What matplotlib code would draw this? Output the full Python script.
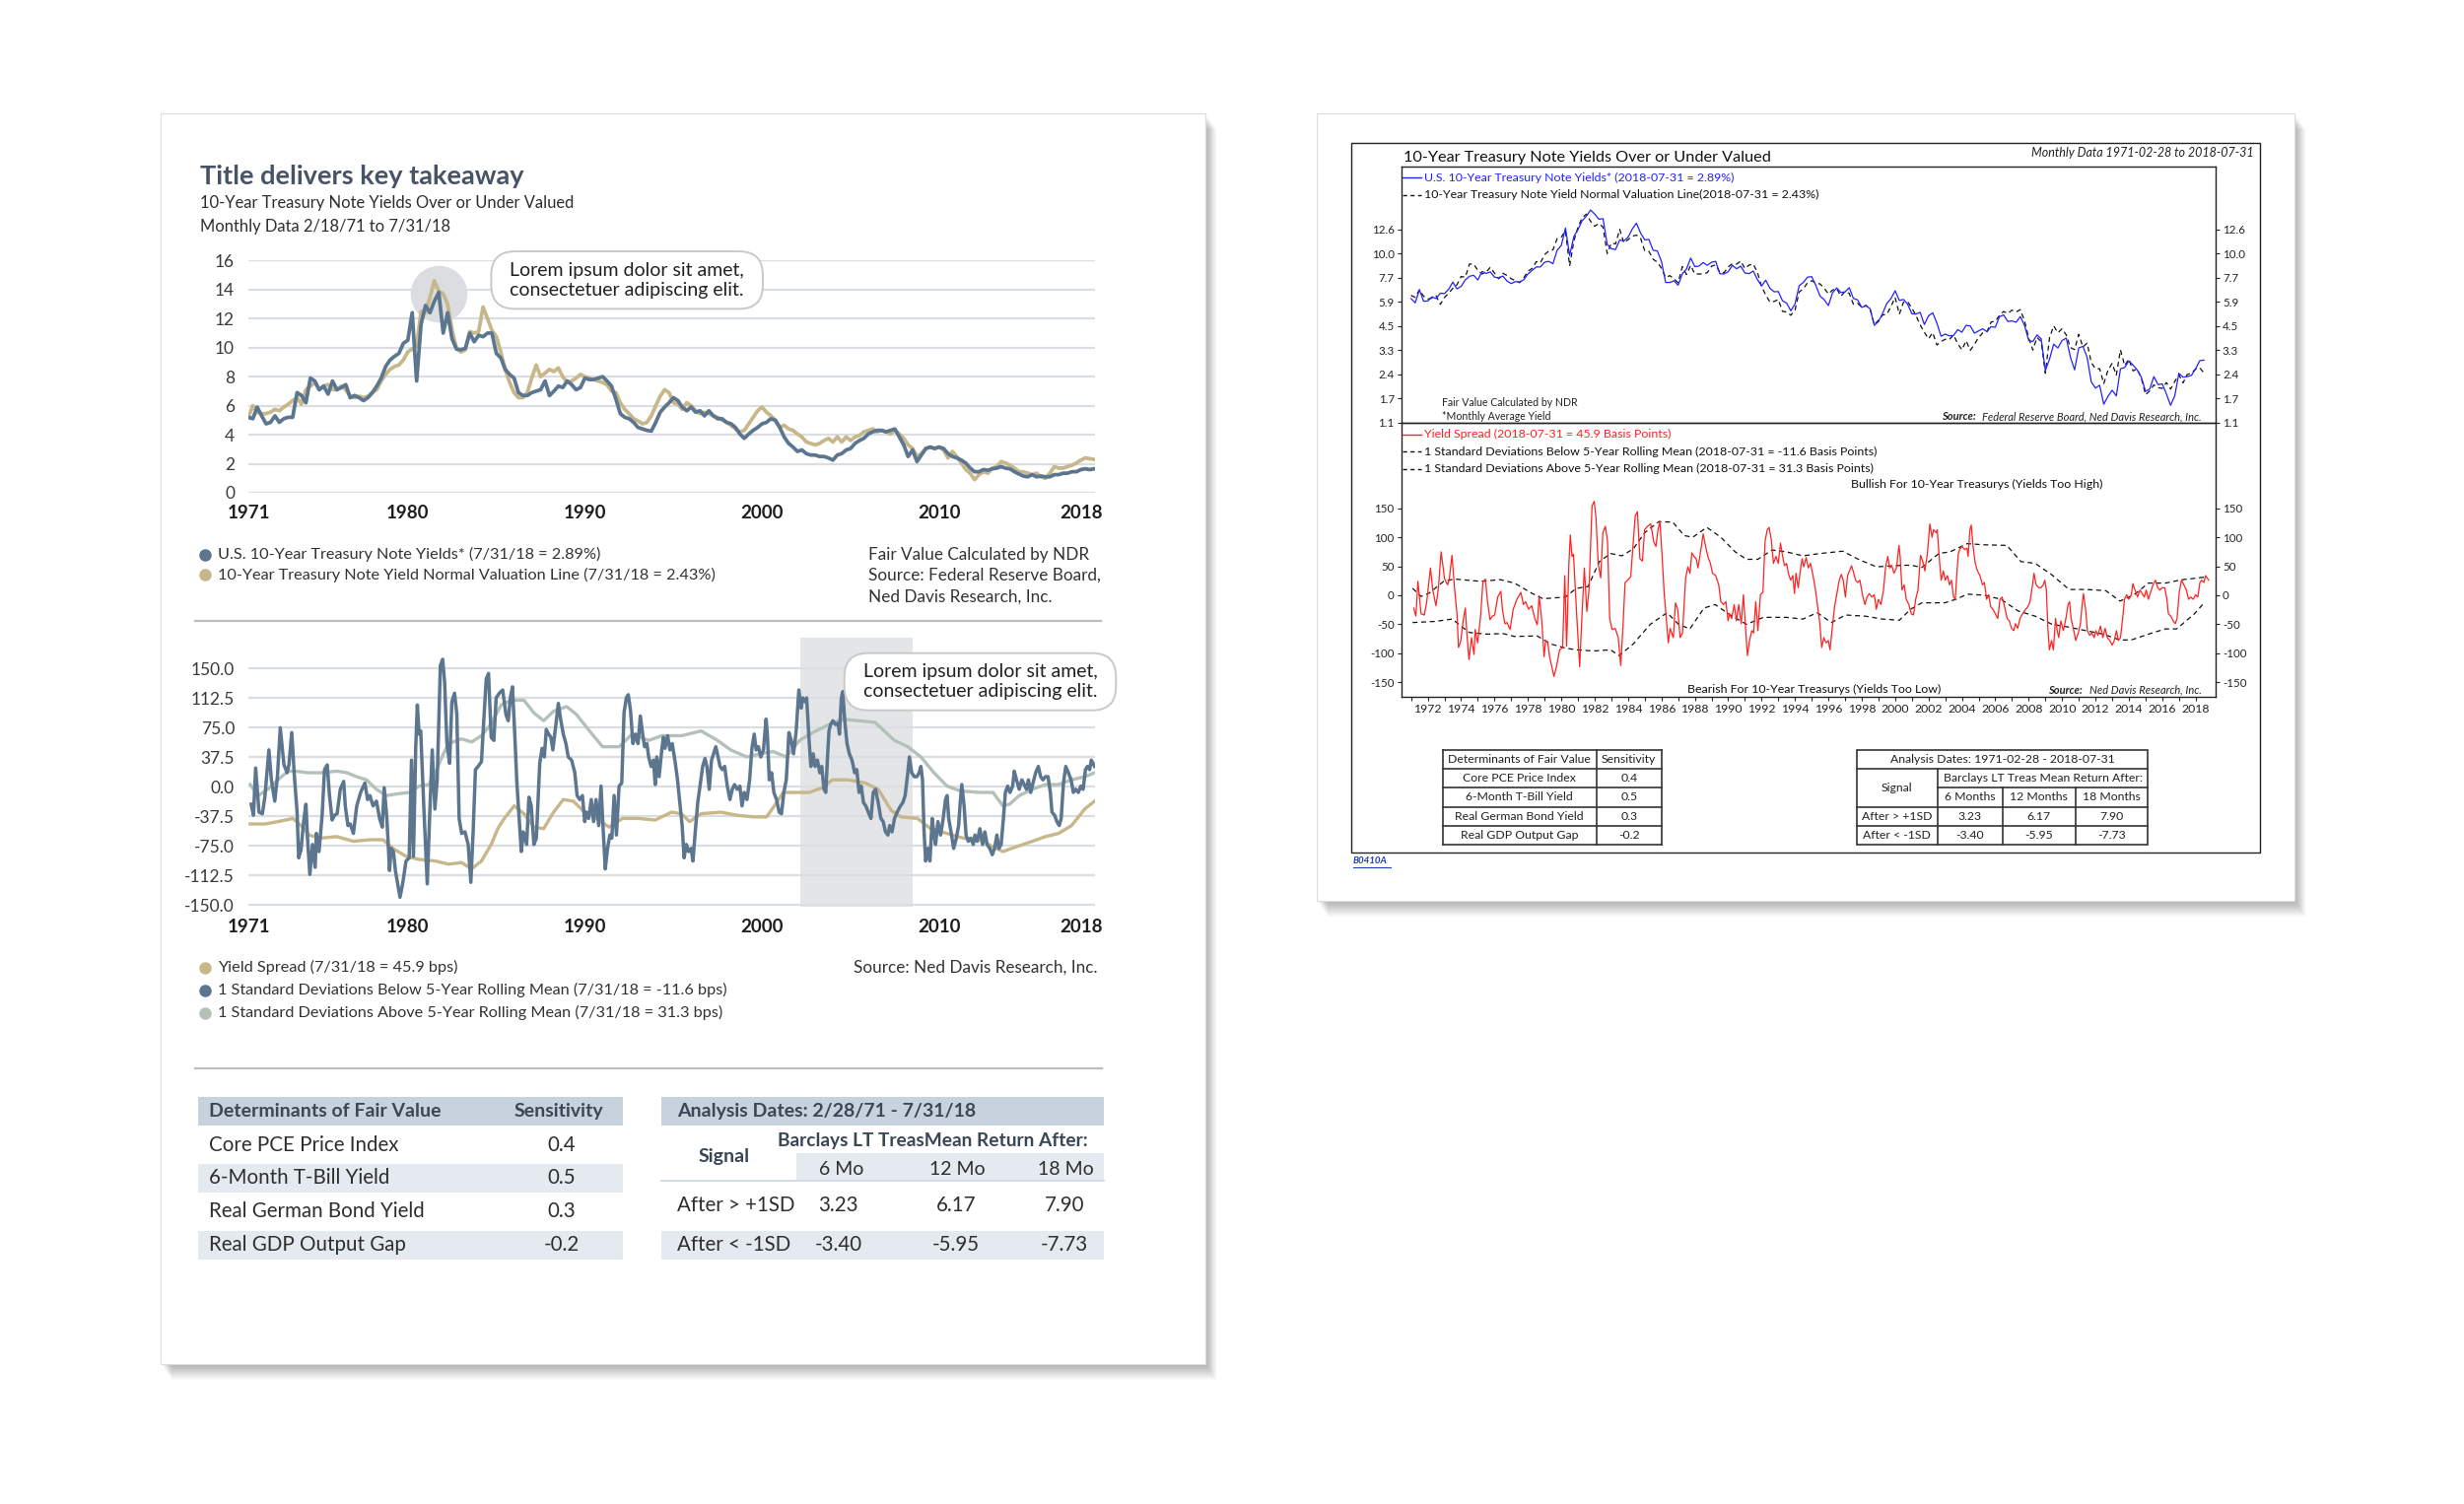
import numpy as np
import matplotlib
matplotlib.use("Agg")
import matplotlib.pyplot as plt
from matplotlib.patches import Rectangle, FancyBboxPatch
from matplotlib.ticker import FixedLocator, NullLocator

plt.rcParams['font.family'] = ['Lato', 'DejaVu Sans']

W, H, DPI = 2500, 1526, 100

# ============================ DATA ============================
# ---- left page, top chart (quarterly, as drawn) ----
left_quarters = np.arange(1971.0, 2018.76, 0.25)
left_yield = [
    5.2, 5.1, 5.9, 5.3,  4.75, 4.85, 5.3, 4.85,  5.1, 5.2, 5.2, 6.9,  6.7, 6.2, 7.9, 7.7,
    7.1, 7.35, 6.8, 7.7,  7.1, 7.25, 7.45, 6.55,  6.7, 6.55, 6.35, 6.55,  6.9, 7.35, 7.9, 8.7,
    9.15, 9.4, 9.6, 10.3,  10.5, 12.4, 7.7, 11.6,  12.9, 12.4, 13.2, 13.8,  11.0, 12.4, 10.6, 9.9,
    9.85, 9.95, 11.0, 10.4,  10.85, 10.75, 11.0, 11.0,  9.6, 9.3, 8.5, 8.15,  7.9, 6.9, 6.7, 6.7,
    6.9, 7.0, 7.1, 7.7,  6.7, 7.0, 7.35, 7.25,  7.7, 7.45, 7.1, 7.25,  7.9, 7.8, 7.8, 7.9,
    8.0, 7.7, 7.35, 6.45,  5.45, 5.2, 5.1, 4.85,  4.5, 4.4, 4.3, 4.25,  4.85, 5.55, 5.9, 6.2,
    6.55, 6.35, 5.9, 5.65,  5.9, 5.55, 5.65, 5.3,  5.65, 5.3, 5.1, 5.1,  4.85, 4.75, 4.5, 4.05,
    3.75, 4.05, 4.3, 4.5,  4.75, 4.85, 5.1, 5.0,  4.5, 3.85, 3.4, 3.15,  2.85, 2.95, 2.7, 2.6,
    2.6, 2.5, 2.5, 2.4,  2.25, 2.6, 2.7, 2.95,  3.05, 3.4, 3.6, 3.75,  4.05, 4.2, 4.3, 4.3,
    4.2, 4.3, 4.4, 3.85,  3.3, 2.5, 2.95, 2.15,  2.6, 3.05, 3.15, 3.05,  3.15, 3.05, 2.7, 2.5,
    2.4, 2.25, 2.05, 1.7,  1.45, 1.45, 1.6, 1.55,  1.65, 1.7, 1.8, 1.7,  1.65, 1.45, 1.3, 1.15,
    1.1, 1.25, 1.1, 1.15,  1.1, 1.1, 1.25, 1.25,  1.35, 1.35, 1.45, 1.45,  1.6, 1.65, 1.6, 1.65]
left_valuation = [
    5.2, 6.0, 5.55, 5.45,  5.45, 5.55, 5.75, 5.65,  5.9, 6.1, 6.35, 6.55,  6.1, 7.1, 7.35, 7.6,
    7.1, 7.35, 7.45, 7.1,  7.1, 7.35, 7.1, 6.65,  6.55, 6.65, 6.55, 6.65,  6.9, 7.1, 7.7, 8.15,
    8.5, 8.7, 8.8, 9.15,  9.7, 9.9, 10.1, 12.5,  12.4, 13.45, 14.6, 13.9,  13.7, 13.0, 11.2, 9.95,
    9.7, 9.85, 11.1, 11.0,  11.1, 12.8, 12.0, 11.2,  10.75, 9.7, 8.5, 7.6,  6.9, 6.55, 6.55, 6.9,
    7.9, 8.8, 8.0, 8.25,  8.5, 8.35, 8.6, 8.0,  7.6, 7.7, 7.9, 8.15,  8.0, 7.9, 7.8, 7.7,
    7.6, 7.45, 7.0, 6.9,  6.2, 5.75, 5.45, 5.1,  4.95, 4.75, 4.85, 5.3,  6.0, 6.65, 7.1, 6.9,
    6.2, 6.1, 5.75, 6.2,  6.0, 5.65, 5.45, 5.55,  5.45, 5.3, 5.2, 5.0,  4.85, 4.65, 4.4, 4.2,
    4.3, 4.75, 5.2, 5.65,  5.9, 5.55, 5.3, 5.0,  4.5, 4.65, 4.4, 4.3,  4.05, 3.85, 3.5, 3.4,
    3.3, 3.4, 3.6, 3.75,  3.5, 3.85, 3.5, 3.85,  3.6, 3.85, 3.95, 4.2,  4.3, 4.4, 4.2, 4.3,
    4.2, 4.05, 4.3, 4.05,  3.75, 3.3, 3.05, 2.5,  2.7, 3.05, 3.15, 3.05,  3.15, 2.95, 2.4, 2.85,
    2.5, 2.05, 1.6, 1.35,  0.9, 1.25, 1.45, 1.35,  1.7, 1.8, 2.15, 2.05,  1.9, 1.7, 1.45, 1.45,
    1.35, 1.25, 1.35, 1.1,  1.0, 1.35, 1.8, 1.7,  1.7, 1.8, 1.9, 2.05,  2.25, 2.4, 2.35, 2.3]

# ---- yield spread (basis points), read point by point ----
spread_years = [
    1971.16, 1971.29, 1971.41, 1971.60, 1971.79, 1971.93, 1972.16, 1972.30, 1972.49, 1972.64,
    1972.80, 1973.01, 1973.19, 1973.29, 1973.45, 1973.60, 1973.75, 1973.84, 1973.97, 1974.12,
    1974.25, 1974.34, 1974.47, 1974.62, 1974.77, 1974.84, 1974.99, 1975.17, 1975.30, 1975.45,
    1975.58, 1975.73, 1975.86, 1976.01, 1976.19, 1976.38, 1976.47, 1976.62, 1976.75, 1976.93,
    1977.12, 1977.34, 1977.58, 1977.73, 1977.86, 1978.04, 1978.23, 1978.41, 1978.56, 1978.67,
    1978.82, 1978.97, 1979.06, 1979.19, 1979.30, 1979.43, 1979.56, 1979.71, 1979.90, 1980.08,
    1980.21, 1980.32, 1980.45, 1980.54, 1980.64, 1980.73, 1980.91, 1981.10, 1981.23, 1981.38,
    1981.53, 1981.66, 1981.84, 1981.97, 1982.08, 1982.21, 1982.36, 1982.49, 1982.64, 1982.77,
    1982.90, 1983.04, 1983.23, 1983.41, 1983.56, 1983.69, 1983.82, 1983.97, 1984.16, 1984.29,
    1984.43, 1984.56, 1984.71, 1984.86, 1984.99, 1985.17, 1985.36, 1985.54, 1985.67, 1985.79,
    1985.91, 1986.04, 1986.16, 1986.29, 1986.41, 1986.52, 1986.71, 1986.84, 1986.97, 1987.12,
    1987.26, 1987.45, 1987.58, 1987.71, 1987.82, 1987.95, 1988.08, 1988.19, 1988.32, 1988.41,
    1988.50, 1988.63, 1988.78, 1988.93, 1989.06, 1989.25, 1989.43, 1989.56, 1989.71, 1989.86,
    1989.99, 1990.08, 1990.21, 1990.36, 1990.49, 1990.63, 1990.78, 1990.91, 1991.00, 1991.15,
    1991.28, 1991.41, 1991.52, 1991.65, 1991.78, 1991.93, 1992.08, 1992.21, 1992.34, 1992.45,
    1992.58, 1992.71, 1992.86, 1993.00, 1993.13, 1993.26, 1993.37, 1993.50, 1993.60, 1993.74,
    1993.87, 1993.97, 1994.06, 1994.19, 1994.34, 1994.43, 1994.52, 1994.67, 1994.80, 1994.93,
    1995.08, 1995.23, 1995.36, 1995.49, 1995.60, 1995.73, 1995.86, 1996.00, 1996.10, 1996.23,
    1996.37, 1996.52, 1996.65, 1996.78, 1996.89, 1997.02, 1997.15, 1997.26, 1997.39, 1997.52,
    1997.63, 1997.76, 1997.89, 1998.04, 1998.19, 1998.32, 1998.45, 1998.60, 1998.75, 1998.87,
    1999.00, 1999.15, 1999.30, 1999.43, 1999.56, 1999.67, 1999.80, 1999.93, 2000.08, 2000.23,
    2000.30, 2000.41, 2000.54, 2000.67, 2000.82, 2000.97, 2001.10, 2001.23, 2001.37, 2001.52,
    2001.65, 2001.78, 2001.93, 2002.08, 2002.21, 2002.30, 2002.45, 2002.52, 2002.67, 2002.76,
    2002.89, 2003.00, 2003.13, 2003.26, 2003.37, 2003.50, 2003.60, 2003.69, 2003.78, 2003.87,
    2004.00, 2004.15, 2004.30, 2004.37, 2004.48, 2004.56, 2004.67, 2004.80, 2004.93, 2005.08,
    2005.23, 2005.35, 2005.48, 2005.60, 2005.73, 2005.86, 2006.00, 2006.15, 2006.28, 2006.41,
    2006.56, 2006.71, 2006.84, 2006.97, 2007.11, 2007.21, 2007.34, 2007.48, 2007.63, 2007.82,
    2007.95, 2008.08, 2008.23, 2008.32, 2008.45, 2008.60, 2008.74, 2008.87, 2008.97, 2009.06,
    2009.15, 2009.24, 2009.37, 2009.48, 2009.61, 2009.71, 2009.80, 2009.93, 2010.08, 2010.23,
    2010.36, 2010.45, 2010.54, 2010.67, 2010.82, 2010.97, 2011.10, 2011.19, 2011.28, 2011.41,
    2011.52, 2011.65, 2011.78, 2011.93, 2012.02, 2012.15, 2012.30, 2012.45, 2012.58, 2012.71,
    2012.86, 2013.00, 2013.13, 2013.26, 2013.37, 2013.50, 2013.63, 2013.74, 2013.87, 2014.00,
    2014.15, 2014.24, 2014.37, 2014.52, 2014.67, 2014.80, 2014.93, 2015.04, 2015.17, 2015.30,
    2015.45, 2015.60, 2015.73, 2015.86, 2016.00, 2016.15, 2016.28, 2016.37, 2016.52, 2016.65,
    2016.78, 2016.89, 2017.02, 2017.15, 2017.30, 2017.45, 2017.58, 2017.71, 2017.86, 2018.00,
    2018.13, 2018.26, 2018.37, 2018.50, 2018.59, 2018.69, 2018.78]
spread_bps = [
    -22, -36, 24, -32, -34, -13, 47, 9, -18, 13,
    75, 28, 18, 28, 69, 13, -32, -90, -80, -44,
    -22, -65, -111, -73, -102, -59, -82, -34, 22, 28,
    -11, -42, -36, -34, -3, 7, -24, -49, -47, -59,
    -24, -7, 5, -16, -11, -24, -18, -40, -51, -1,
    -40, -106, -78, -82, -106, -123, -140, -123, -94, -90,
    34, -88, 51, 104, 67, 71, -28, -123, -40, 47,
    -28, 9, 154, 162, 133, 55, 30, 108, 119, 92,
    -40, -59, -57, -73, -121, -57, 22, 26, 32, 84,
    137, 144, 63, 59, 113, 119, 123, 92, 84, 113,
    127, 67, 5, -40, -82, -57, -73, -13, -24, -73,
    -65, 30, 49, 38, 73, 67, 63, 47, 71, 88,
    106, 86, 67, 55, 38, 34, 18, -11, -16, -11,
    -44, -32, -40, -16, -44, -16, -49, 1, -40, -104,
    -78, -61, -65, -11, -61, 1, 5, 94, 113, 117,
    96, 55, 67, 55, 90, 67, 51, 55, 38, 26,
    34, 3, 38, 13, 47, 63, 49, 65, 47, 55,
    34, 9, -20, -49, -90, -73, -82, -78, -94, -57,
    -20, 5, 26, 36, 26, -3, 34, 42, 51, 38,
    26, 22, 26, 1, -16, -3, 3, -3, 1, -24,
    -7, -16, 9, 49, 67, 47, 51, 38, 47, 86,
    67, 9, 18, -7, -16, -32, -34, -7, 9, 69,
    59, 42, 71, 123, 100, 113, 108, 113, 55, 26,
    42, 26, 34, 18, 26, -3, -7, 34, 71, 79,
    84, 79, 81, 67, 113, 121, 84, 55, 42, 34,
    18, 22, -7, 1, -20, -24, -32, -40, -7, -3,
    -20, -40, -44, -57, -61, -49, -57, -40, -32, -24,
    -20, -11, 18, 38, 18, 13, 13, 18, 26, 9,
    -57, -94, -78, -94, -40, -61, -73, -44, -61, -40,
    -16, -11, -40, -57, -78, -65, -49, -20, 3, -24,
    -61, -69, -65, -73, -61, -69, -53, -73, -57, -73,
    -78, -86, -78, -61, -78, -73, -40, -7, 1, -7,
    1, 20, 9, -3, 9, 3, -3, 9, -7, 5,
    18, 26, 13, 9, 13, 13, -7, -32, -36, -44,
    -49, -40, 5, 26, 18, 9, -7, -3, -7, 1,
    -3, 22, 26, 22, 34, 30, 26]

# ---- left page bands (bps) ----
left_upper_years = [1971.10, 1971.56, 1972.10, 1972.67, 1973.23, 1973.69, 1974.34, 1975.08, 1976.00, 1976.56,
                    1977.12, 1977.67, 1978.23, 1978.79, 1979.34, 1980.08, 1980.64, 1981.19, 1981.56, 1981.93,
                    1982.30, 1983.04, 1983.60, 1984.16, 1984.71, 1985.27, 1985.82, 1986.56, 1987.12, 1987.67,
                    1988.23, 1988.97, 1989.52, 1990.26, 1991.00, 1991.93, 1992.67, 1993.60, 1994.34, 1995.45,
                    1996.56, 1997.49, 1998.23, 1999.15, 1999.89, 2000.63, 2001.37, 2002.12, 2002.86, 2003.78,
                    2004.52, 2006.37, 2007.48, 2008.23, 2008.97, 2009.71, 2010.45, 2011.19, 2012.30, 2013.04,
                    2013.60, 2013.97, 2014.52, 2015.26, 2016.00, 2016.74, 2017.48, 2018.22, 2018.78]
left_upper_bps = [3, -11, -3, 9, 20, 20, 18, 18, 20, 18,
                  13, 9, -3, -11, -9, -7, 1, 3, 18, 38,
                  55, 61, 57, 65, 80, 104, 110, 110, 94, 84,
                  96, 102, 92, 71, 51, 51, 67, 59, 65, 65,
                  71, 59, 47, 38, 42, 45, 38, 59, 69, 79,
                  86, 82, 59, 51, 38, 18, 1, -5, -7, -7,
                  -24, -22, -11, -3, 3, 3, 9, 13, 18]
left_lower_years = [1971.10, 1971.93, 1972.67, 1973.51, 1973.97, 1974.43, 1975.08, 1976.00, 1976.93, 1977.86,
                    1978.60, 1979.16, 1979.90, 1980.64, 1981.56, 1982.30, 1983.04, 1983.60, 1984.16, 1984.71,
                    1985.08, 1985.45, 1986.01, 1986.56, 1987.12, 1987.67, 1988.23, 1988.78, 1989.34, 1989.89,
                    1990.63, 1991.37, 1992.12, 1993.04, 1993.97, 1994.89, 1995.45, 1995.91, 1996.56, 1997.67,
                    1998.60, 1999.52, 2000.26, 2000.82, 2001.19, 2001.93, 2002.67, 2003.41, 2003.97, 2004.89,
                    2005.82, 2006.56, 2007.30, 2007.85, 2008.78, 2009.52, 2010.45, 2011.37, 2012.30, 2013.04,
                    2013.60, 2014.34, 2015.26, 2016.00, 2016.74, 2017.48, 2018.22, 2018.78]
left_lower_bps = [-47, -47, -44, -40, -49, -61, -65, -63, -69, -67,
                  -67, -78, -88, -92, -94, -98, -96, -104, -94, -73,
                  -53, -40, -24, -34, -51, -53, -32, -16, -18, -30,
                  -40, -51, -40, -40, -42, -32, -34, -44, -34, -32,
                  -36, -38, -38, -20, -7, -7, -7, -1, 9, 9,
                  5, -3, -30, -38, -40, -53, -59, -65, -67, -76,
                  -82, -76, -69, -63, -59, -49, -28, -18]

# ---- right page (original NDR chart) ----
right_quarters = np.arange(1971.0, 2018.51, 0.25)
right_yield = [
    6.11, 5.83, 6.73, 5.93,  5.95, 6.23, 6.11, 6.48,  6.46, 6.77, 7.33, 6.80,  6.99, 7.51, 7.81, 7.90,
    7.50, 8.23, 8.06, 8.19,  7.74, 7.67, 7.83, 7.41,  7.21, 7.37, 7.33, 7.52,  8.01, 8.32, 8.64, 8.64,
    9.10, 9.18, 8.95, 10.30,  10.80, 12.75, 9.78, 11.75,  12.57, 13.68, 14.28, 15.15,  14.59, 13.87, 13.95, 10.91,
    10.46, 10.38, 11.38, 11.28,  11.67, 12.63, 13.36, 12.16,  11.38, 11.43, 10.31, 10.24,  9.19, 7.30, 7.30, 7.43,
    7.08, 8.02, 8.45, 9.52,  8.67, 8.72, 9.06, 8.80,  9.09, 9.18, 8.02, 8.01,  8.21, 8.79, 8.47, 8.72,
    8.09, 8.04, 8.27, 7.53,  7.03, 7.48, 6.84, 6.59,  6.60, 5.97, 5.81, 5.33,  5.75, 7.04, 7.30, 7.74,
    7.78, 7.06, 6.28, 6.04,  5.65, 6.51, 6.87, 6.53,  6.58, 6.89, 6.12, 6.03,  5.54, 5.64, 5.46, 4.53,
    4.72, 5.18, 5.79, 6.11,  6.66, 5.99, 6.05, 5.74,  5.16, 5.14, 5.24, 4.57,  5.04, 5.21, 4.65, 3.94,
    4.05, 3.96, 3.98, 4.29,  4.15, 4.53, 4.50, 4.10,  4.22, 4.34, 4.18, 4.46,  4.42, 4.99, 5.09, 4.73,
    4.76, 4.69, 5.00, 4.53,  3.74, 3.68, 4.01, 3.81,  2.52, 2.93, 3.56, 3.39,  3.73, 3.85, 3.01, 2.54,
    3.39, 3.46, 3.00, 2.15,  1.97, 2.05, 1.53, 1.75,  1.91, 1.76, 2.58, 2.62,  2.86, 2.71, 2.54, 2.30,
    1.88, 1.94, 2.32, 2.07,  2.09, 1.81, 1.50, 1.76,  2.43, 2.30, 2.32, 2.36,  2.58, 2.87, 2.89]
right_valuation = [
    6.33, 6.19, 6.73, 6.27,  6.08, 6.14, 6.29, 5.73,  6.18, 6.49, 6.83, 7.12,  7.79, 7.73, 8.92, 8.92,
    8.32, 8.01, 8.17, 8.61,  8.08, 7.60, 8.07, 7.88,  7.61, 7.44, 7.28, 7.68,  8.25, 8.50, 9.15, 9.04,
    9.88, 10.24, 10.35, 11.53,  11.70, 12.41, 8.74, 11.25,  12.85, 14.08, 14.56, 13.61,  12.97, 13.32, 12.87, 9.99,
    11.05, 10.95, 12.59, 11.06,  11.41, 11.79, 11.92, 11.57,  10.25, 10.20, 9.39, 9.11,  8.52, 7.70, 7.87, 7.59,
    7.28, 8.67, 7.96, 8.79,  8.00, 8.01, 8.00, 8.13,  8.71, 8.84, 8.13, 8.12,  8.65, 8.95, 8.91, 9.21,
    8.49, 8.82, 8.92, 8.14,  6.98, 6.35, 5.88, 5.92,  6.05, 5.30, 5.26, 5.07,  5.37, 6.57, 6.81, 7.27,
    7.44, 7.26, 7.18, 6.86,  6.43, 6.71, 6.82, 6.27,  6.61, 6.47, 5.74, 5.81,  5.53, 5.67, 5.43, 4.56,
    4.79, 5.09, 5.12, 5.60,  6.19, 5.13, 5.87, 5.90,  5.50, 5.05, 4.55, 4.15,  3.81, 4.13, 3.52, 3.68,
    3.79, 3.78, 4.01, 3.58,  3.31, 3.72, 3.29, 3.55,  3.88, 4.12, 4.17, 4.70,  4.74, 5.06, 5.29, 5.17,
    5.37, 5.26, 5.40, 4.77,  3.85, 3.30, 3.88, 3.68,  2.43, 3.87, 4.50, 4.12,  4.34, 4.01, 3.41, 3.32,
    4.04, 3.43, 3.61, 2.80,  2.58, 2.58, 2.10, 2.53,  2.77, 2.37, 3.31, 2.69,  2.93, 2.51, 2.57, 2.27,
    1.79, 1.89, 2.06, 1.98,  1.96, 2.13, 1.94, 2.16,  2.38, 2.12, 2.39, 2.43,  2.57, 2.61, 2.44]
right_upper_years = [1971.09, 1971.60, 1972.10, 1972.95, 1973.60, 1975.16, 1976.34, 1977.20, 1978.20, 1978.90,
                     1980.25, 1980.90, 1981.60, 1982.28, 1982.95, 1983.63, 1984.31, 1985.00, 1985.84, 1986.68,
                     1987.36, 1987.87, 1988.72, 1989.56, 1990.41, 1991.09, 1991.77, 1992.62, 1993.46, 1994.48,
                     1995.50, 1996.86, 1997.87, 1998.89, 1999.91, 2000.93, 2001.60, 2002.62, 2003.30, 2004.32,
                     2005.34, 2006.69, 2007.54, 2008.39, 2009.40, 2010.42, 2011.44, 2012.62, 2013.47, 2014.32,
                     2015.17, 2016.19, 2017.21, 2017.89, 2018.56]
right_upper_bps = [12, -2, 4, 24, 28, 24, 27, 21, 4, -6,
                   -3, 12, 15, 58, 72, 68, 80, 108, 127, 126,
                   103, 100, 117, 100, 75, 62, 62, 78, 75, 68,
                   72, 76, 61, 49, 51, 52, 48, 72, 75, 89,
                   87, 86, 58, 55, 35, 10, 10, 8, -10, 1,
                   21, 21, 27, 29, 31.3]
right_lower_years = [1971.09, 1972.45, 1973.46, 1974.48, 1975.50, 1976.51, 1977.19, 1978.55, 1979.39, 1980.24,
                     1980.92, 1981.93, 1982.95, 1983.46, 1984.31, 1985.33, 1986.34, 1987.02, 1987.70, 1988.55,
                     1989.22, 1990.07, 1991.09, 1992.11, 1993.46, 1994.48, 1995.33, 1996.18, 1997.03, 1998.22,
                     1999.23, 2000.25, 2000.93, 2001.60, 2002.96, 2003.64, 2004.32, 2005.34, 2006.35, 2007.37,
                     2008.39, 2009.40, 2010.42, 2011.44, 2012.46, 2013.47, 2014.15, 2015.17, 2016.19, 2016.86,
                     2017.89, 2018.56]
right_lower_bps = [-47, -45, -41, -64, -67, -66, -71, -70, -84, -91,
                   -94, -96, -94, -104, -84, -50, -30, -50, -58, -22,
                   -16, -33, -50, -38, -38, -41, -30, -47, -34, -36,
                   -41, -43, -24, -13, -13, -7, 2, 0, -7, -27,
                   -36, -50, -55, -61, -67, -77, -77, -67, -58, -58,
                   -33, -11.6]

# ---- ticks / labels ----
left_year_ticks = [1971, 1980, 1990, 2000, 2010, 2018]
left_top_yticks = [0, 2, 4, 6, 8, 10, 12, 14, 16]
left_bot_yticks = [-150.0, -112.5, -75.0, -37.5, 0.0, 37.5, 75.0, 112.5, 150.0]
right_top_yticks = [1.1, 1.7, 2.4, 3.3, 4.5, 5.9, 7.7, 10.0, 12.6]
right_bot_yticks = [-150, -100, -50, 0, 50, 100, 150]
right_year_labels = [1972, 1974, 1976, 1978, 1980, 1982, 1984, 1986, 1988, 1990, 1992, 1994,
                     1996, 1998, 2000, 2002, 2004, 2006, 2008, 2010, 2012, 2014, 2016, 2018]

# ---- tables ----
fv_factors = ["Core PCE Price Index", "6-Month T-Bill Yield", "Real German Bond Yield", "Real GDP Output Gap"]
fv_sensitivity = ["0.4", "0.5", "0.3", "-0.2"]
signals = ["After > +1SD", "After < -1SD"]
ret_6m = ["3.23", "-3.40"]
ret_12m = ["6.17", "-5.95"]
ret_18m = ["7.90", "-7.73"]

# ============================ STYLE ============================
SLATE = '#5d7690'
TAN = '#c7b78a'
SAGE = '#b4c1b8'
GRID = '#dadee2'
SHADE = '#e4e5e7'
HEAD = '#c8d2dd'
LIGHT = '#e4eaf0'
TXT = '#2e2e2e'
HTXT = '#3b4656'

fig = plt.figure(figsize=(W / DPI, H / DPI), dpi=DPI)
fig.patch.set_facecolor('white')


def rect(x0, y0, x1, y1):
    return [x0 / W, 1 - y1 / H, (x1 - x0) / W, (y1 - y0) / H]


bg = fig.add_axes([0, 0, 1, 1], zorder=0)
bg.set_xlim(0, W); bg.set_ylim(H, 0); bg.axis('off'); bg.patch.set_alpha(0)
ov = fig.add_axes([0, 0, 1, 1], zorder=5)
ov.set_xlim(0, W); ov.set_ylim(H, 0); ov.axis('off'); ov.patch.set_alpha(0)


def page(x0, y0, x1, y1):
    for i in range(1, 17):
        bg.add_patch(Rectangle((x0 + i * 0.7, y0 + i * 1.0), x1 - x0, y1 - y0,
                               fc='black', ec='none', alpha=0.02))
    bg.add_patch(Rectangle((x0, y0), x1 - x0, y1 - y0, fc='white', ec='#dddddd', lw=0.8))


page(163, 115, 1223, 1384)
page(1336, 115, 2328, 914)

# ----------------- LEFT PAGE -----------------
ov.text(203, 187, "Title delivers key takeaway", fontsize=19.5, fontweight='bold',
        color='#475466', va='baseline', ha='left')
ov.text(203, 211, "10-Year Treasury Note Yields Over or Under Valued", fontsize=11.9,
        color=TXT, va='baseline')
ov.text(203, 235, "Monthly Data 2/18/71 to 7/31/18", fontsize=11.9, color=TXT, va='baseline')


def style_left(ax, ylim, yticks, labels):
    ax.patch.set_alpha(0)
    ax.set_xlim(1971.0, 2018.8)
    ax.set_ylim(*ylim)
    ax.yaxis.set_major_locator(FixedLocator(yticks))
    ax.set_yticklabels(labels)
    ax.xaxis.set_major_locator(FixedLocator(left_year_ticks))
    ax.set_xticklabels([str(y) for y in left_year_ticks])
    for s in ax.spines.values():
        s.set_visible(False)
    ax.tick_params(axis='both', length=0)
    ax.tick_params(axis='y', pad=10, labelsize=12.5, labelcolor='#3a3a3a')
    ax.tick_params(axis='x', pad=9, labelsize=13.5, labelcolor='#1e1e1e')
    for t in ax.get_xticklabels():
        t.set_fontweight('bold')
    ax.yaxis.grid(True, color=GRID, lw=1.6)
    ax.xaxis.grid(False)
    ax.set_axisbelow(True)


ax1 = fig.add_axes(rect(252, 264.3, 1111, 500), zorder=2)
style_left(ax1, (0, 16), left_top_yticks, [str(v) for v in left_top_yticks])
ax1.scatter([1981.75], [13.7], s=1720, color='#dcdde0', lw=0, zorder=1)
ax1.plot(left_quarters, left_valuation, color=TAN, lw=2.7, zorder=3, solid_joinstyle='round')
ax1.plot(left_quarters, left_yield, color=SLATE, lw=2.7, zorder=4, solid_joinstyle='round')

ax2 = fig.add_axes(rect(252, 647.3, 1111, 920), zorder=2)
style_left(ax2, (-152, 189), left_bot_yticks, ["%.1f" % v for v in left_bot_yticks])
ax2.axvspan(2002.15, 2008.52, color=SHADE, lw=0, zorder=0.2)
ax2.plot(left_upper_years, left_upper_bps, color=SAGE, lw=2.4, zorder=2)
ax2.plot(left_lower_years, left_lower_bps, color=TAN, lw=2.4, zorder=2)
ax2.plot(spread_years, spread_bps, color=SLATE, lw=2.5, zorder=3, solid_joinstyle='round')


def callout(cx, cy, w, h):
    ov.add_patch(FancyBboxPatch((cx - w / 2, cy - h / 2), w, h,
                                boxstyle="round,pad=0,rounding_size=24",
                                fc='white', ec='#c9c9c9', lw=1.4))
    ov.text(cx, cy, "Lorem ipsum dolor sit amet,\nconsectetuer adipiscing elit.",
            ha='center', va='center', fontsize=14, color='#222222', linespacing=1.2)


callout(636.2, 284.2, 275.6, 58.3)
callout(994.5, 691.7, 275.5, 58.0)

LEG = 11.7


def legend_dot(x, y, color, text):
    ov.plot([x], [y], marker='o', ms=8, color=color, ls='none')
    ov.text(x + 13, y, text, va='center', ha='left', fontsize=LEG, color='#333333')


legend_dot(207.6, 562.7, SLATE, "U.S. 10-Year Treasury Note Yields* (7/31/18 = 2.89%)")
legend_dot(207.6, 583.3, TAN, "10-Year Treasury Note Yield Normal Valuation Line (7/31/18 = 2.43%)")
for yy, t in zip([562.7, 583.3, 605.5], ["Fair Value Calculated by NDR", "Source: Federal Reserve Board,",
                                        "Ned Davis Research, Inc."]):
    ov.text(881, yy, t, va='center', ha='left', fontsize=12.3, color='#333333')
ov.plot([198, 1117], [630, 630], color='#bcbcbc', lw=1.6)

legend_dot(207.6, 981.7, TAN, "Yield Spread (7/31/18 = 45.9 bps)")
legend_dot(207.6, 1004.5, SLATE, "1 Standard Deviations Below 5-Year Rolling Mean (7/31/18 = -11.6 bps)")
legend_dot(207.6, 1027.5, SAGE, "1 Standard Deviations Above 5-Year Rolling Mean (7/31/18 = 31.3 bps)")
ov.text(866, 981.7, "Source: Ned Davis Research, Inc.", va='center', ha='left', fontsize=12.3,
        color='#333333')
ov.plot([198, 1118], [1084, 1084], color='#bcbcbc', lw=1.6)

# tables (left page)
ov.add_patch(Rectangle((201.4, 1112.7), 430.6, 29, fc=HEAD, ec='none'))
ov.add_patch(Rectangle((201.4, 1180.7), 430.6, 29, fc=LIGHT, ec='none'))
ov.add_patch(Rectangle((201.4, 1248.8), 430.6, 29, fc=LIGHT, ec='none'))
ov.text(211.8, 1127.2, "Determinants of Fair Value", fontsize=14, fontweight='bold', color=HTXT, va='center')
ov.text(521.7, 1127.2, "Sensitivity", fontsize=14, fontweight='bold', color=HTXT, va='center')
for yy, lab, val in zip([1161.7, 1195.2, 1228.6, 1263.3], fv_factors, fv_sensitivity):
    ov.text(211.8, yy, lab, fontsize=14.8, color=TXT, va='center')
    ov.text(570, yy, val, fontsize=14.8, color=TXT, va='center', ha='center')

ov.add_patch(Rectangle((671, 1112.7), 449, 29, fc=HEAD, ec='none'))
ov.add_patch(Rectangle((807.7, 1170), 312.3, 27.3, fc=LIGHT, ec='none'))
ov.add_patch(Rectangle((671, 1248.8), 449, 29, fc=LIGHT, ec='none'))
ov.plot([671, 1120], [1198.3, 1198.3], color='#ccd5de', lw=1.2)
ov.text(687, 1127.2, "Analysis Dates: 2/28/71 - 7/31/18", fontsize=14, fontweight='bold', color=HTXT, va='center')
ov.text(789.3, 1157.5, "Barclays LT TreasMean Return After:", fontsize=13.8, fontweight='bold', color=HTXT,
        va='center')
ov.text(734.2, 1174, "Signal", fontsize=14, fontweight='bold', color=HTXT, va='center', ha='center')
for xx, t in zip([853.6, 971.8, 1081.4], ["6 Mo", "12 Mo", "18 Mo"]):
    ov.text(xx, 1186.7, t, fontsize=14, color=TXT, va='center', ha='center')
for yy, s, a, b, c in zip([1223.3, 1263.3], signals, ret_6m, ret_12m, ret_18m):
    ov.text(687, yy, s, fontsize=14.8, color=TXT, va='center')
    for xx, v in zip([850.5, 970, 1080], [a, b, c]):
        ov.text(xx, yy, v, fontsize=14.8, color=TXT, va='center', ha='center')

# ----------------- RIGHT PAGE -----------------
ov.add_patch(Rectangle((1371, 145), 922, 720, fc='none', ec='#222222', lw=1.0))
ov.text(1424.5, 160, "10-Year Treasury Note Yields Over or Under Valued", fontsize=11.7,
        color='#111111', va='center', ha='left')
ov.text(2287, 155, "Monthly Data 1971-02-28 to 2018-07-31", fontsize=9, style='italic',
        color='#222222', va='center', ha='right')

tv_log = np.log(np.array(right_top_yticks))
tv_idx = np.arange(len(right_top_yticks), dtype=float)


def fwd(y):
    y = np.asarray(y, dtype=float)
    with np.errstate(all='ignore'):
        ly = np.log(np.clip(y, 1e-9, None))
    out = np.interp(ly, tv_log, tv_idx)
    out = np.where(ly < tv_log[0], (ly - tv_log[0]) / (tv_log[1] - tv_log[0]), out)
    out = np.where(ly > tv_log[-1], tv_idx[-1] + (ly - tv_log[-1]) / (tv_log[-1] - tv_log[-2]), out)
    return out


def inv(p):
    p = np.asarray(p, dtype=float)
    ly = np.interp(p, tv_idx, tv_log)
    ly = np.where(p < 0, tv_log[0] + p * (tv_log[1] - tv_log[0]), ly)
    ly = np.where(p > tv_idx[-1], tv_log[-1] + (p - tv_idx[-1]) * (tv_log[-1] - tv_log[-2]), ly)
    return np.exp(ly)


def style_right(ax):
    ax.patch.set_alpha(0)
    ax.set_xlim(1970.41, 2019.2)
    for s in ax.spines.values():
        s.set_linewidth(1.0); s.set_color('#222222')
    ax.tick_params(axis='y', which='both', left=True, right=True, labelleft=True, labelright=True,
                   direction='out', length=3, width=0.8, pad=2, labelsize=8.3, colors='#222222')


axr1 = fig.add_axes(rect(1421.7, 169.3, 2248, 428.7), zorder=2)
axr1.set_yscale('function', functions=(fwd, inv))
style_right(axr1)
axr1.set_ylim(1.1, 22.9)
axr1.yaxis.set_major_locator(FixedLocator(right_top_yticks))
axr1.yaxis.set_minor_locator(NullLocator())
axr1.set_yticklabels(["%.1f" % v for v in right_top_yticks])
axr1.tick_params(axis='x', which='both', bottom=False, labelbottom=False)
axr1.plot(right_quarters, right_valuation, color='#111111', lw=0.9, ls=(0, (4, 3)))
axr1.plot(right_quarters, right_yield, color='#2222ff', lw=0.9)

axr2 = fig.add_axes(rect(1421.7, 428.7, 2248, 706.7), zorder=2)
style_right(axr2)
axr2.set_ylim(-174.5, 297.8)
axr2.yaxis.set_major_locator(FixedLocator(right_bot_yticks))
axr2.set_yticklabels([str(v) for v in right_bot_yticks])
axr2.xaxis.set_major_locator(FixedLocator(right_year_labels))
axr2.set_xticklabels([str(v) for v in right_year_labels])
axr2.xaxis.set_minor_locator(FixedLocator(np.arange(1971, 2019)))
axr2.tick_params(axis='x', which='both', direction='out', length=3, width=0.8, pad=2.5,
                 labelsize=8.8, colors='#222222')
axr2.plot(right_upper_years, right_upper_bps, color='#111111', lw=0.9, ls=(0, (4, 3)))
axr2.plot(right_lower_years, right_lower_bps, color='#111111', lw=0.9, ls=(0, (4, 3)))
axr2.plot(spread_years, spread_bps, color='#ff2222', lw=0.9)

RLEG = 8.9


def rlegend(y, color, dashed, text):
    ov.plot([1423, 1442], [y, y], color=color, lw=1.0, ls=(0, (3, 2.5)) if dashed else '-')
    ov.text(1445, y, text, fontsize=RLEG, color=color, va='center', ha='left')


rlegend(180, '#2222ff', False, "U.S. 10-Year Treasury Note Yields* (2018-07-31 = 2.89%)")
rlegend(197.7, '#111111', True, "10-Year Treasury Note Yield Normal Valuation Line(2018-07-31 = 2.43%)")
rlegend(440.7, '#ff2222', False, "Yield Spread (2018-07-31 = 45.9 Basis Points)")
rlegend(458.3, '#111111', True, "1 Standard Deviations Below 5-Year Rolling Mean (2018-07-31 = -11.6 Basis Points)")
rlegend(475.7, '#111111', True, "1 Standard Deviations Above 5-Year Rolling Mean (2018-07-31 = 31.3 Basis Points)")
ov.text(1463, 409, "Fair Value Calculated by NDR", fontsize=7.6, color='#222222', va='center')
ov.text(1463, 422.7, "*Monthly Average Yield", fontsize=7.6, color='#222222', va='center')
ov.text(2005.5, 491, "Bullish For 10-Year Treasurys (Yields Too High)", fontsize=8.9, color='#111111',
        va='center', ha='center')
ov.text(1840.7, 699.3, "Bearish For 10-Year Treasurys (Yields Too Low)", fontsize=8.9, color='#111111',
        va='center', ha='center')


def source(y, text):
    t = ov.text(2234, y, text, fontsize=8, style='italic', color='#222222', va='center', ha='right')
    ov.annotate("Source:", xy=(0, 0.5), xycoords=t, xytext=(-5, 0), textcoords='offset points',
                fontsize=8, style='italic', fontweight='bold', color='#222222', va='center', ha='right')


source(422.7, "Federal Reserve Board, Ned Davis Research, Inc.")
source(700, "Ned Davis Research, Inc.")

# right page tables
LW = 1.2
LC = '#333333'
TF = 8.8
rows = [760.7, 780.0, 799.3, 818.7, 838.0, 857.3]
lcols = [1463.6, 1619.7, 1685.7]
for yy in rows:
    ov.plot([lcols[0], lcols[-1]], [yy, yy], color=LC, lw=LW)
for xx in lcols:
    ov.plot([xx, xx], [rows[0], rows[-1]], color=LC, lw=LW)
lcells = [("Determinants of Fair Value", "Sensitivity")] + list(zip(fv_factors, fv_sensitivity))
for i, (a, b) in enumerate(lcells):
    yc = (rows[i] + rows[i + 1]) / 2
    ov.text((lcols[0] + lcols[1]) / 2, yc, a, fontsize=TF, color='#222222', ha='center', va='center')
    ov.text((lcols[1] + lcols[2]) / 2, yc, b, fontsize=TF, color='#222222', ha='center', va='center')

rc = [1883.8, 1965.9, 2031.9, 2105.9, 2179.4]
ov.add_patch(Rectangle((rc[0], rows[0]), rc[-1] - rc[0], rows[-1] - rows[0], fc='none', ec=LC, lw=LW))
ov.plot([rc[0], rc[-1]], [rows[1], rows[1]], color=LC, lw=LW)
ov.plot([rc[1], rc[-1]], [rows[2], rows[2]], color=LC, lw=LW)
ov.plot([rc[0], rc[-1]], [rows[3], rows[3]], color=LC, lw=LW)
ov.plot([rc[0], rc[-1]], [rows[4], rows[4]], color=LC, lw=LW)
ov.plot([rc[1], rc[1]], [rows[1], rows[-1]], color=LC, lw=LW)
for xx in rc[2:4]:
    ov.plot([xx, xx], [rows[2], rows[-1]], color=LC, lw=LW)
ov.text((rc[0] + rc[-1]) / 2, (rows[0] + rows[1]) / 2, "Analysis Dates: 1971-02-28 - 2018-07-31",
        fontsize=TF, color='#222222', ha='center', va='center')
ov.text((rc[0] + rc[1]) / 2, rows[2], "Signal", fontsize=TF, color='#222222', ha='center', va='center')
ov.text((rc[1] + rc[-1]) / 2, (rows[1] + rows[2]) / 2, "Barclays LT Treas Mean Return After:",
        fontsize=TF, color='#222222', ha='center', va='center')
for j, t in enumerate(["6 Months", "12 Months", "18 Months"]):
    ov.text((rc[j + 1] + rc[j + 2]) / 2, (rows[2] + rows[3]) / 2, t, fontsize=TF, color='#222222',
            ha='center', va='center')
for i, (s, a, b, c) in enumerate(zip(signals, ret_6m, ret_12m, ret_18m)):
    yc = (rows[3 + i] + rows[4 + i]) / 2
    for j, v in enumerate([s, a, b, c]):
        ov.text((rc[j] + rc[j + 1]) / 2, yc, v, fontsize=TF, color='#222222', ha='center', va='center')

ov.text(1373, 874, "B0410A", fontsize=7, style='italic', fontweight='bold', color='#1a3fc0',
        va='center', ha='left')
ov.plot([1373, 1411], [880, 880], color='#1a3fc0', lw=0.8)

fig.savefig("out.png", dpi=DPI, facecolor='white')
